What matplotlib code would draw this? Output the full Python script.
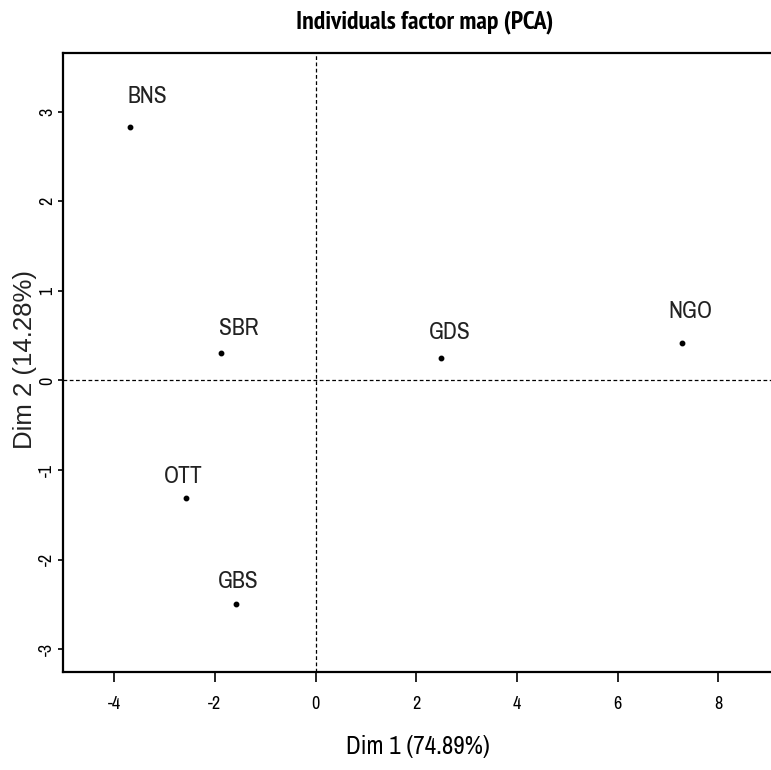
import matplotlib
matplotlib.use("Agg")
import matplotlib.pyplot as plt
from matplotlib import font_manager
from matplotlib.font_manager import FontProperties

# ---- data ----
labels = ["BNS", "SBR", "OTT", "GBS", "GDS", "NGO"]
dim1 = [-3.69, -1.88, -2.57, -1.57, 2.50, 7.27]
dim2 = [2.83, 0.31, -1.31, -2.49, 0.25, 0.42]
xticks = [-4, -2, 0, 2, 4, 6, 8]
yticks = [-3, -2, -1, 0, 1, 2, 3]
title = "Individuals factor map (PCA)"
xlabel = "Dim 1 (74.89%)"
ylabel = "Dim 2 (14.28%)"

# label offsets (points) relative to each dot
label_dx = [13, 13, -2, 1, 6, 6]
label_dy = [14, 10, 8, 8, 11, 15]

files = [f.fname for f in font_manager.fontManager.ttflist]
def find(keys, bold=False):
    for fn in files:
        low = fn.lower()
        if all(k in low for k in keys) and (("bold" in low) == bold) and "italic" not in low and "oblique" not in low:
            return fn
    return None

reg = find(["liberationsansnarrow"]) or find(["narrow"]) or find(["dejavusanscondensed"]) or find(["condensed"])
bld = find(["liberationsansnarrow"], True) or find(["narrow"], True) or find(["dejavusanscondensed"], True) or find(["condensed"], True)

def fp(size, bold=False):
    fn = bld if bold else reg
    if fn:
        return FontProperties(fname=fn, size=size)
    return FontProperties(family=["Liberation Sans", "DejaVu Sans"], size=size,
                          weight="bold" if bold else "normal")

plt.rcParams["font.family"] = ["Liberation Sans", "DejaVu Sans"]

fig = plt.figure(figsize=(7.71, 7.70), dpi=100)
ax = fig.add_axes([62.7 / 771, 1 - 672.3 / 770, (787 - 62.7) / 771, (672.3 - 53) / 770])

ax.set_xlim(-5.02, 9.36)
ax.set_ylim(-3.257, 3.655)

ax.axhline(0, color="black", lw=0.9, ls=(0, (3, 2)))
ax.axvline(0, color="black", lw=0.9, ls=(0, (3, 2)))

ax.plot(dim1, dim2, "o", color="black", ms=3.2, ls="none")
for lab, x, y, dx, dy in zip(labels, dim1, dim2, label_dx, label_dy):
    ax.annotate(lab, (x, y), xytext=(dx, dy), textcoords="offset points",
                ha="center", va="bottom", fontproperties=fp(17), color="#222222")

ax.set_xticks(xticks)
ax.set_yticks(yticks)
ax.set_xticklabels([str(v) for v in xticks], fontproperties=fp(13))
ax.set_yticklabels([str(v) for v in yticks], fontproperties=fp(13), rotation=90, va="center")
ax.tick_params(axis="x", length=7, width=1.2, pad=10)
ax.tick_params(axis="y", length=3.5, width=1.2, pad=2)

for s in ax.spines.values():
    s.set_linewidth(1.6)

fig.text(425 / 771, 1 - 22 / 770, title, ha="center", va="center",
         fontproperties=fp(18.5, True))
fig.text(418 / 771, 1 - 747 / 770, xlabel, ha="center", va="center", fontproperties=fp(18))
fig.text(25 / 771, 1 - 360 / 770, ylabel, ha="center", va="center", fontsize=18.5,
         rotation=90, family=["Liberation Sans", "DejaVu Sans"], color="#222222")

fig.savefig("out.png", dpi=100)
